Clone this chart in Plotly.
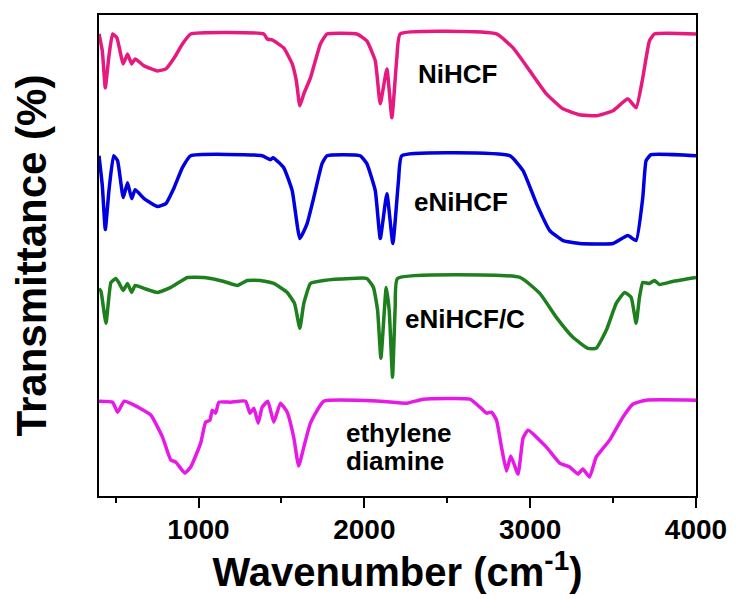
import plotly.graph_objects as go

# ---- data (wavenumber in cm^-1, transmittance in arbitrary stacked units) ----
nihcf_wn = [400, 420, 438, 460, 482, 508, 546, 572, 597, 618, 672, 753, 803, 853, 903, 953,
            1394, 1414, 1444, 1514, 1565, 1590, 1611, 1635, 1675, 1735, 1775, 1955, 2015, 2066,
            2096, 2136, 2166, 2196, 2216, 2797, 2897, 2998, 3098, 3198, 3298, 3399, 3499, 3589,
            3639, 3679, 3719, 3749, 4000]
nihcf_t = [463, 446, 409, 441, 463, 459, 433, 443, 433, 438, 431, 426, 428, 439, 453, 463,
           463, 458, 457, 449, 433, 416, 391, 403, 419, 453, 463, 463, 456, 436,
           393, 428, 379, 439, 463, 463, 449, 426, 403, 388, 382, 381, 386, 398,
           389, 419, 456, 463, 463]

enihcf_wn = [400, 420, 438, 460, 488, 512, 546, 572, 597, 618, 672, 753, 803, 853, 903, 953,
             1384, 1434, 1450, 1514, 1565, 1611, 1655, 1695, 1745, 1775, 1975, 2015, 2066,
             2096, 2136, 2172, 2206, 2226, 2877, 2957, 3038, 3118, 3198, 3298, 3499, 3589,
             3639, 3679, 3699, 3729, 4000]
enihcf_t = [341, 311, 267, 306, 341, 336, 299, 314, 298, 307, 298, 290, 293, 309, 329, 341,
            341, 337, 339, 329, 306, 258, 273, 299, 333, 341, 341, 333, 306,
            258, 303, 253, 316, 341, 341, 326, 293, 266, 256, 253, 253, 261,
            256, 299, 336, 342, 341]

enihcfc_wn = [400, 412, 442, 472, 502, 522, 546, 572, 597, 618, 672, 753, 833, 933, 1033, 1154,
              1234, 1294, 1374, 1454, 1535, 1579, 1611, 1635, 1675, 1755, 1915, 2015, 2055, 2080,
              2100, 2132, 2150, 2170, 2186, 2200, 2938, 3058, 3158, 3258, 3348, 3398, 3459, 3519,
              3569, 3609, 3639, 3659, 3679, 3719, 3749, 3779, 3859, 4000]
enihcfc_t = [208, 205, 173, 214, 218, 213, 206, 213, 204, 211, 208, 204, 209, 219, 219, 215,
             211, 216, 216, 213, 204, 193, 168, 193, 213, 216, 218, 218, 209, 186,
             138, 209, 186, 119, 189, 218, 219, 203, 179, 159, 148, 148, 166, 193,
             204, 199, 173, 199, 214, 213, 216, 212, 215, 219]

eda_wn = [400, 482, 512, 552, 612, 713, 783, 833, 863, 917, 953, 1013, 1043, 1069, 1083, 1103,
          1123, 1194, 1284, 1310, 1334, 1360, 1384, 1418, 1454, 1494, 1535, 1574, 1604, 1635,
          1675, 1755, 2096, 2256, 2356, 2637, 2697, 2737, 2767, 2797, 2827, 2857, 2883, 2927,
          2957, 2987, 3098, 3178, 3238, 3288, 3318, 3358, 3398, 3479, 3559, 3619, 3699, 4000]
eda_t = [95, 94, 84, 95, 91, 81, 59, 36, 34, 23, 29, 53, 74, 76, 86, 83,
         94, 94, 95, 83, 88, 73, 89, 95, 74, 93, 84, 59, 30, 49,
         73, 95, 95, 93, 97, 97, 89, 83, 84, 76, 49, 25, 40, 22,
         58, 66, 49, 33, 29, 22, 27, 19, 39, 56, 79, 92, 96, 96]

x_ticks = [1000, 2000, 3000, 4000]
x_minor_ticks = [500, 1500, 2500, 3500]

series = [
    ("NiHCF", nihcf_wn, nihcf_t, "#e6197f"),
    ("eNiHCF", enihcf_wn, enihcf_t, "#0000e0"),
    ("eNiHCF/C", enihcfc_wn, enihcfc_t, "#1e7f1e"),
    ("ethylene diamine", eda_wn, eda_t, "#e619e6"),
]

# label positions (wavenumber, transmittance units)
labels = [
    ("NiHCF", 2559, 423, "center"),
    ("eNiHCF", 2584, 295, "center"),
    ("eNiHCF/C", 2609, 177, "center"),
    ("ethylene", 1877, 63, "left"),
    ("diamine", 1877, 35, "left"),
]

FONT = "Liberation Sans, Arial, Helvetica, sans-serif"

fig = go.Figure()
for name, wn, t, color in series:
    fig.add_trace(go.Scatter(x=wn, y=t, mode="lines", name=name,
                             line=dict(color=color, width=3.5, shape="spline", smoothing=0.4)))

for text, x, y, anchor in labels:
    fig.add_annotation(x=x, y=y, text=text, showarrow=False, xanchor=anchor, yanchor="middle",
                       font=dict(family=FONT, size=26, color="black", weight="bold"))

fig.update_layout(
    width=729, height=591,
    margin=dict(l=91, r=41, t=7, b=103),
    paper_bgcolor="white", plot_bgcolor="white",
    showlegend=False,
    font=dict(family=FONT, color="black"),
)
fig.update_xaxes(
    range=[400, 4000], showgrid=False, zeroline=False, automargin=False,
    showline=True, linecolor="black", linewidth=2, mirror=True,
    ticks="outside", ticklen=10, tickwidth=2, tickcolor="black",
    tickvals=x_ticks, ticktext=[str(v) for v in x_ticks],
    ticklabelstandoff=-3,
    tickfont=dict(family=FONT, size=28, color="black", weight="bold"),
    minor=dict(tickvals=x_minor_ticks, ticks="outside", ticklen=5, tickwidth=2,
               tickcolor="black"),
    title=dict(text="Wavenumber (cm<sup>-1</sup>)", standoff=6,
               font=dict(family=FONT, size=40, color="black", weight="bold")),
)
fig.update_yaxes(
    range=[0, 482], showgrid=False, zeroline=False, automargin=False,
    showline=True, linecolor="black", linewidth=2, mirror=True,
    ticks="", showticklabels=False,
    title=dict(text="Transmittance (%)", standoff=39,
               font=dict(family=FONT, size=42, color="black", weight="bold")),
)

fig.write_html("out.html")
